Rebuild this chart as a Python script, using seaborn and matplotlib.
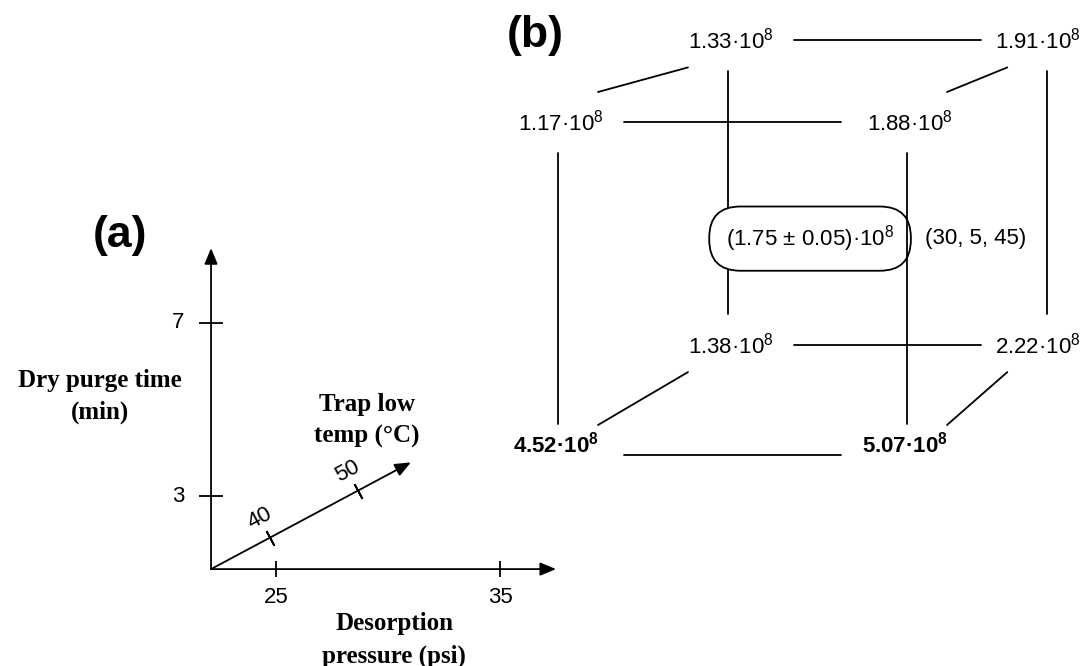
import itertools

import numpy as np
import pandas as pd
import matplotlib
matplotlib.use("Agg")
import matplotlib.pyplot as plt
import seaborn as sns

# ---------------------------------------------------------------- data
pressure_levels = [25, 35]          # desorption pressure (psi)
time_levels = [3, 7]                # dry purge time (min)
temp_levels = [40, 50]              # trap low temperature (°C)

corner_pressure = [25, 35, 25, 35, 25, 35, 25, 35]
corner_time = [3, 3, 7, 7, 3, 3, 7, 7]
corner_temp = [40, 40, 40, 40, 50, 50, 50, 50]
corner_response = [4.52, 5.07, 1.17, 1.88, 1.38, 2.22, 1.33, 1.91]   # x 10^8
corner_bold = [True, True, False, False, False, False, False, False]

center_point = [30, 5, 45]          # (pressure, time, temp)
center_response = 1.75
center_sd = 0.05
exponent = 8

pressure_ticks = [25, 35]
time_ticks = [3, 7]
temp_ticks = [40, 50]

# ---------------------------------------------------------------- style
sns.set_theme(style="white")
plt.rcParams["font.family"] = ["Liberation Sans", "DejaVu Sans"]
plt.rcParams["text.color"] = "black"
plt.rcParams["mathtext.fontset"] = "custom"
plt.rcParams["mathtext.rm"] = "Liberation Sans"
plt.rcParams["mathtext.it"] = "Liberation Sans:italic"
plt.rcParams["mathtext.bf"] = "Liberation Sans:bold"

SERIF = ["Liberation Serif", "DejaVu Serif"]
NUM_SIZE = 16
LABEL_SIZE = 18
LW = 1.3
PT = 0.72          # points per pixel at 100 dpi

W_PX, H_PX = 1091, 666
fig = plt.figure(figsize=(W_PX / 100, H_PX / 100), dpi=100)
fig.patch.set_facecolor("white")

ax_a = fig.add_axes([0, 0, 1, 1])
ax_b = fig.add_axes([0, 0, 1, 1])
for ax in (ax_a, ax_b):
    ax.set_axis_off()
    ax.patch.set_alpha(0)

# ============================================================ panel (a)
# factor-space sketch: pressure to the right, purge time upward,
# trap temperature along an oblique axis
PX_PER_PSI, PX_PER_MIN = 22.4, 43.25
ax_a.set_xlim(25 - 276 / PX_PER_PSI, 25 + (W_PX - 276) / PX_PER_PSI)
ax_a.set_ylim(3 - (H_PX - 496) / PX_PER_MIN, 3 + 496 / PX_PER_MIN)

P0, T0 = 22.1, 1.31                  # where the three axes meet
P_END, T_END = 37.5, 8.73
TEMP0, TEMP_END = 33.3, 56.0
TEMP_DIR = (0.393, 0.1087)           # (psi, min) per °C along the oblique axis


def temp_pos(c):
    return P0 + (c - TEMP0) * TEMP_DIR[0], T0 + (c - TEMP0) * TEMP_DIR[1]


arrow_kw = dict(arrowstyle="-|>,head_length=0.6,head_width=0.25",
                color="black", lw=LW, mutation_scale=16,
                shrinkA=0, shrinkB=0)
ax_a.annotate("", xy=(P_END, T0), xytext=(P0, T0), arrowprops=arrow_kw)
ax_a.annotate("", xy=(P0, T_END), xytext=(P0, T0), arrowprops=arrow_kw)
ax_a.annotate("", xy=temp_pos(TEMP_END), xytext=(P0, T0), arrowprops=arrow_kw)

# screen angle of the oblique axis
p_a = ax_a.transData.transform((P0, T0))
p_b = ax_a.transData.transform(temp_pos(TEMP_END))
angle = np.degrees(np.arctan2(p_b[1] - p_a[1], p_b[0] - p_a[0]))

ax_a.plot(pressure_ticks, [T0] * len(pressure_ticks), ls="none", marker="|",
          ms=12, mew=LW, color="black")
ax_a.plot([P0] * len(time_ticks), time_ticks, ls="none", marker="_",
          ms=17, mew=LW, color="black")
tx, ty = zip(*[temp_pos(c) for c in temp_ticks])
ax_a.plot(tx, ty, ls="none", marker=(2, 2, angle), ms=12, mew=LW, color="black")

for p in pressure_ticks:
    ax_a.annotate(str(p), (p, T0), xytext=(0, -28 * PT), textcoords="offset points",
                  ha="center", va="center", fontsize=NUM_SIZE)
for t in time_ticks:
    ax_a.annotate(str(t), (P0, t), xytext=(-33 * PT, 0), textcoords="offset points",
                  ha="center", va="center", fontsize=NUM_SIZE)
perp = np.radians(angle + 90)
for c in temp_ticks:
    ax_a.annotate(str(c), temp_pos(c),
                  xytext=(22 * PT * np.cos(perp), 22 * PT * np.sin(perp)),
                  textcoords="offset points", ha="center", va="center",
                  rotation=angle, rotation_mode="anchor", fontsize=NUM_SIZE)

ax_a.annotate("Desorption\npressure (psi)", (np.mean(pressure_levels) + 5 / 2, T0),
              xytext=(-50 * PT, -71 * PT), textcoords="offset points",
              ha="center", va="center", fontsize=LABEL_SIZE, fontweight="bold",
              family=SERIF, linespacing=1.5)
ax_a.annotate("Trap low\ntemp (°C)", temp_pos(TEMP_END),
              xytext=(-44 * PT, 42 * PT), textcoords="offset points",
              ha="center", va="center", fontsize=LABEL_SIZE, fontweight="bold",
              family=SERIF, linespacing=1.5)
ax_a.annotate("Dry purge time\n(min)", (P0, 5.3),
              xytext=(-111 * PT, 0), textcoords="offset points",
              ha="center", va="center", fontsize=LABEL_SIZE, fontweight="bold",
              family=SERIF, linespacing=1.5)
ax_a.annotate("(a)", (P0, T_END), xytext=(-91 * PT, 13 * PT),
              textcoords="offset points", ha="center", va="center",
              fontsize=32, fontweight="bold")

# ============================================================ panel (b)
# cube of responses in an oblique view with slight perspective
X_UNIT, Y_UNIT = 349, 333
X_ORIGIN, Y_ORIGIN = 558, 455


def set_cube_limits():
    ax_b.set_xlim(-X_ORIGIN / X_UNIT, (W_PX - X_ORIGIN) / X_UNIT)
    ax_b.set_ylim(-(H_PX - Y_ORIGIN) / Y_UNIT, Y_ORIGIN / Y_UNIT)


set_cube_limits()

SHRINK = 0.085
DEPTH_X, DEPTH_Y = 0.487, 0.33


def norm(v, levels):
    return (v - levels[0]) / (levels[1] - levels[0])


def project(p, t, c):
    u, v, w = norm(p, pressure_levels), norm(t, time_levels), norm(c, temp_levels)
    s = 1 - SHRINK * w
    return u * s + DEPTH_X * w, v * s + DEPTH_Y * w


corners = pd.DataFrame({
    "pressure": corner_pressure, "time": corner_time, "temp": corner_temp,
    "response": corner_response, "bold": corner_bold,
})
corners["x"], corners["y"] = project(corners["pressure"].to_numpy(float),
                                     corners["time"].to_numpy(float),
                                     corners["temp"].to_numpy(float))

to_px = ax_b.transData.transform
to_data = ax_b.transData.inverted().transform

# edges join corners that differ in one factor; ends are pulled back
# from the labels
gap = {"pressure": ((66, 0), (-66, 0)),
       "time": ((0, 31), (0, -31)),
       "temp": ((40, 30), (-40, -27))}
rows = []
factors = ["pressure", "time", "temp"]
for k, (i, j) in enumerate(itertools.combinations(range(len(corners)), 2)):
    a, b = corners.iloc[i], corners.iloc[j]
    diff = [f for f in factors if a[f] != b[f]]
    if len(diff) != 1:
        continue
    f = diff[0]
    if a[f] > b[f]:
        a, b = b, a
    pa = to_px((a["x"], a["y"])) + np.array(gap[f][0])
    pb = to_px((b["x"], b["y"])) + np.array(gap[f][1])
    layer = "back" if (a["temp"] == temp_levels[1] and b["temp"] == temp_levels[1]) else "front"
    for pt in (pa, pb):
        xd, yd = to_data(pt)
        rows.append({"edge": k, "x": xd, "y": yd, "layer": layer})
edges = pd.DataFrame(rows)

sns.lineplot(data=edges[edges["layer"] == "back"], x="x", y="y", units="edge",
             estimator=None, sort=False, color="black", lw=LW, ax=ax_b, zorder=1)
sns.lineplot(data=edges[edges["layer"] == "front"], x="x", y="y", units="edge",
             estimator=None, sort=False, color="black", lw=LW, ax=ax_b, zorder=3)
set_cube_limits()
ax_b.set_axis_off()

for _, r in corners.iterrows():
    if r["bold"]:
        txt = f"{r['response']:.2f}·10$^{{\\mathbf{{{exponent}}}}}$"
        dx, dy = -2, 2
    else:
        txt = f"{r['response']:.2f}·10$^{{{exponent}}}$"
        dx, dy = 3, -8
    if r["pressure"] == pressure_levels[1] and r["temp"] == temp_levels[1]:
        dx = -9
    ax_b.annotate(txt, (r["x"], r["y"]), xytext=(dx * PT, dy * PT),
                  textcoords="offset points", ha="center", va="baseline",
                  fontsize=NUM_SIZE, fontweight="bold" if r["bold"] else "normal",
                  color="black", zorder=4)

cx, cy = project(*center_point)
ax_b.annotate(f"({center_response:.2f} ± {center_sd:.2f})·10$^{{{exponent}}}$",
              (cx, cy), xytext=(0, 2 * PT), textcoords="offset points",
              ha="center", va="center", fontsize=NUM_SIZE, zorder=2,
              bbox=dict(boxstyle="round,pad=0.75,rounding_size=1.4",
                        fc="white", ec="black", lw=LW))
ax_b.annotate("({}, {}, {})".format(*center_point), (cx, cy),
              xytext=(115 * PT, 2 * PT), textcoords="offset points",
              ha="left", va="center", fontsize=NUM_SIZE, zorder=4)

fig.text(535 / W_PX, 1 - 35 / H_PX, "(b)", ha="center", va="center",
         fontsize=32, fontweight="bold")

fig.savefig("out.png", dpi=100, facecolor="white")
